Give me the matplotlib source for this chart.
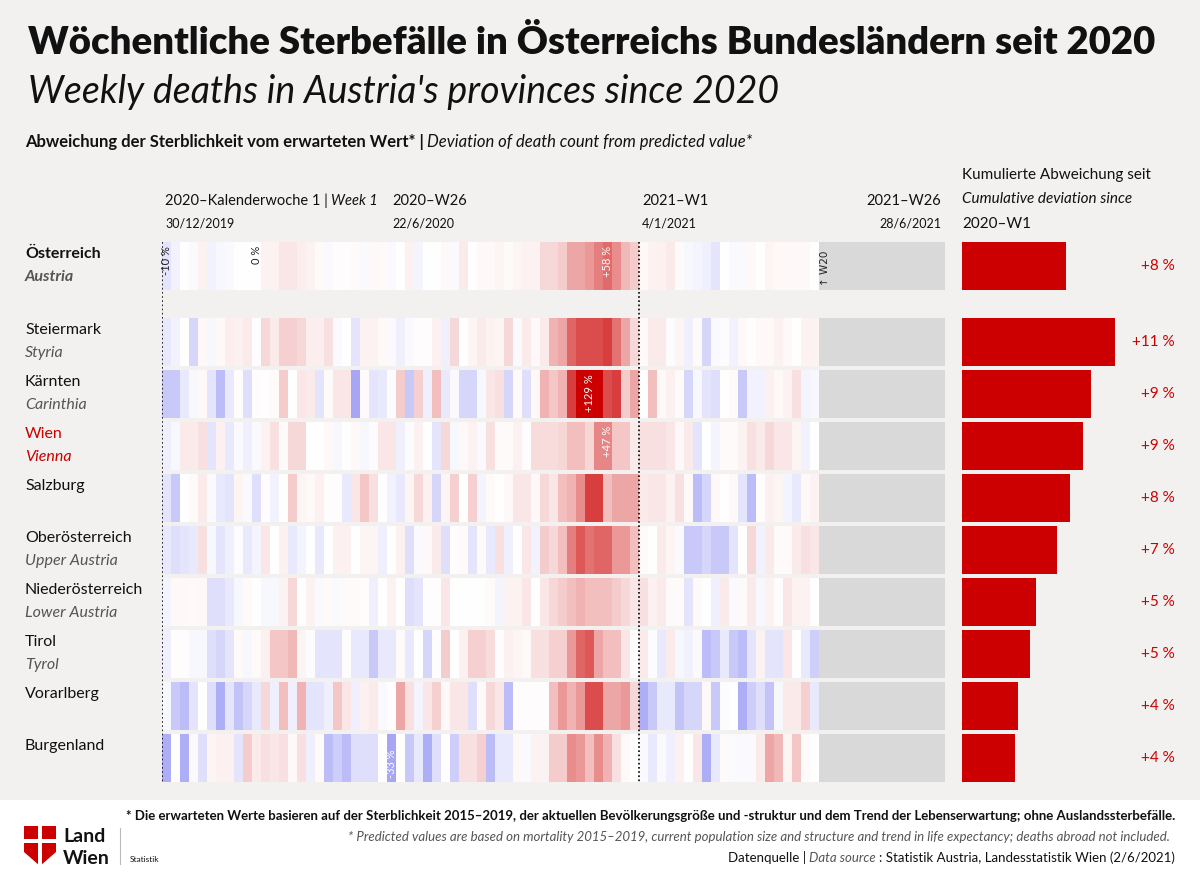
import numpy as np
import matplotlib
matplotlib.use("Agg")
import matplotlib.pyplot as plt
from matplotlib.colors import LinearSegmentedColormap, TwoSlopeNorm
from matplotlib.patches import Rectangle, Polygon

plt.rcParams['font.family'] = ['Lato', 'DejaVu Sans']

# ---------------- data ----------------
regions_de = ["Österreich", "Steiermark", "Kärnten", "Wien", "Salzburg", "Oberösterreich",
              "Niederösterreich", "Tirol", "Vorarlberg", "Burgenland"]
regions_en = ["Austria", "Styria", "Carinthia", "Vienna", "", "Upper Austria",
              "Lower Austria", "Tyrol", "", ""]
cumulative = [7.5, 11.0, 9.3, 8.7, 7.8, 6.8, 5.3, 4.9, 4.0, 3.8]
cumulative_labels = ["+8 %", "+11 %", "+9 %", "+9 %", "+8 %", "+7 %", "+5 %", "+5 %", "+4 %", "+4 %"]

# weekly deviation (%), 2020-W1 ... 2021-W20 (73 weeks)
austria = [-10,-5,0,-2,5,-5,-3,-2,0,0,0,5,5,10,10,7,5,2,-2,1,1,2,-2,3,2,-2,0,6,-4,0,0,3,-2,8,0,3,
           3,4,2,4,5,5,15,15,20,35,35,40,50,58,45,28,20,
           3,5,6,8,2,-3,-4,-6,-10,0,-2,-2,3,0,4,3,3,3,3,0]
styria = [-8,-5,0,-15,3,-3,3,7,6,8,1,15,8,18,18,15,7,7,12,-2,0,-10,5,5,3,-2,-6,-2,1,1,6,-6,15,0,4,8,
          5,4,15,-2,8,3,8,30,35,60,70,70,70,75,55,35,15,
          2,8,8,-1,4,-6,2,-15,-2,-1,-5,3,1,3,3,5,3,0,5,5]
carinthia = [-20,-20,-8,-3,3,-10,-25,-8,1,-12,1,0,2,20,0,10,8,-10,2,10,10,-33,2,-10,-8,-1,20,-20,18,-6,25,-8,-2,-15,-15,-3,
             10,12,-15,2,-12,3,30,22,30,75,129,129,120,70,75,20,35,
             0,25,3,6,2,-15,-3,-10,-12,0,2,-20,-5,-5,6,3,5,12,-4,-3]
vienna = [-6,-3,8,8,12,-10,6,-8,-2,-6,-2,5,12,2,15,15,0,0,3,-3,0,3,-3,-1,10,10,-6,-1,6,0,-10,15,-3,3,5,-2,
          12,2,2,6,1,14,14,14,16,25,25,16,47,47,22,22,8,
          12,12,12,10,3,8,-10,0,-4,2,2,5,12,8,15,10,10,4,-5,0]
salzburg = [-10,-20,0,2,8,-2,-8,-10,4,-2,-12,1,-5,0,20,4,3,6,1,1,-8,10,22,12,0,-5,-8,4,15,6,-15,4,18,0,18,-4,
            2,0,3,10,10,3,15,10,25,30,45,75,75,25,35,35,35,
            8,10,10,5,12,3,-25,-15,3,0,3,-10,-25,1,6,4,-4,-8,3,5]
upper_austria = [-8,-12,-10,-8,12,-3,-10,-6,-1,-8,-4,10,0,6,-8,-4,0,-8,0,6,6,0,4,4,-6,0,6,-12,-2,3,8,-12,1,2,-10,2,
                 -8,12,-6,0,10,-5,20,15,25,50,65,55,60,60,40,40,25,
                 2,0,8,4,-2,-20,-20,-15,-20,-20,-10,0,15,-5,8,2,2,8,12,10]
lower_austria = [-4,3,3,2,3,-12,-12,-8,-3,2,0,-3,-3,5,15,0,5,-2,2,-2,2,2,1,-6,0,5,0,-12,-10,1,1,10,0,0,0,0,
                 2,-4,5,5,10,0,10,15,20,25,30,25,25,25,20,15,10,
                 12,6,8,2,2,-10,2,0,-6,8,-2,2,8,-3,5,1,10,5,5,0]
tyrol = [-6,1,1,-3,-3,-12,-15,-10,2,-3,2,6,22,22,28,4,-1,-10,-10,-10,1,-8,-8,-20,-8,-8,2,-8,0,-15,1,20,0,6,18,18,
         14,1,6,4,3,12,12,18,18,40,60,65,35,25,25,10,1,
         8,-1,-8,8,-3,-5,-2,-25,-20,-8,-20,-25,-10,5,-10,-10,10,0,-8,-18]
vorarlberg = [-3,-20,-25,-10,0,-12,-30,-10,-22,-15,-8,15,-6,25,-6,30,-10,-10,-6,22,10,-6,6,8,-2,0,35,12,-4,10,18,3,10,10,-12,2,
              15,10,-25,1,1,1,1,25,40,30,40,70,70,35,35,40,15,
              -30,-20,-8,-8,-22,-15,-15,3,-20,-1,0,-30,-18,-12,-22,-3,8,8,18,-8]
burgenland = [-30,0,-30,-2,-12,4,6,6,-10,20,8,12,10,12,3,12,-6,2,-25,-18,-25,-12,-12,-12,0,-33,0,-20,-8,-30,-12,0,-18,12,12,18,
              -25,-8,-8,3,-2,5,5,20,20,45,40,25,45,30,12,3,0,
              -2,-8,-2,-6,6,0,10,-30,-8,2,-2,-2,-2,8,35,28,4,22,2,0]
series = [austria, styria, carinthia, vienna, salzburg, upper_austria, lower_austria, tyrol, vorarlberg, burgenland]

week_labels = ["2020–Kalenderwoche 1", "2020–W26", "2021–W1", "2021–W26"]
date_labels = ["30/12/2019", "22/6/2020", "4/1/2021", "28/6/2021"]

# ---------------- layout ----------------
W, H = 1200, 891
BG = "#f2f1ef"
RED = "#cc0000"
fig = plt.figure(figsize=(12, 8.91), dpi=100, facecolor=BG)
renderer = fig.canvas.get_renderer()

def fx(x): return x / W
def fy(y): return 1 - y / H
def T(x, y, s, **kw):
    return fig.text(fx(x), fy(y), s, **kw)

def chain(x, y, pieces, ha="left", gap=3, **common):
    objs = [T(0, y, s, va="center", **{**common, **kw}) for s, kw in pieces]
    widths = [o.get_window_extent(renderer).width for o in objs]
    total = sum(widths) + gap * (len(objs) - 1)
    cur = x if ha == "left" else x - total
    for o, w in zip(objs, widths):
        o.set_x(fx(cur))
        cur += w + gap

row_tops = [242, 318, 370, 422, 474, 526, 578, 630, 682, 734]
row_h = 48
Y0, Y1 = 236, 786

ax = fig.add_axes([fx(162), fy(Y1), (945 - 162) / W, (Y1 - Y0) / H])
xmax = (945 - 162) / 9
ax.set_xlim(0, xmax)
ax.set_ylim(Y1, Y0)
ax.axis("off")

cmap = LinearSegmentedColormap.from_list("dev", ["#7878f0", "#ffffff", RED])
norm = TwoSlopeNorm(vmin=-50, vcenter=0, vmax=100)
for vals, top in zip(series, row_tops):
    n = len(vals)
    X = np.arange(n + 1)
    Yb = np.array([top, top + row_h])
    ax.pcolormesh(X, Yb, np.array([vals], dtype=float), cmap=cmap, norm=norm, shading="flat")
    ax.add_patch(Rectangle((n, top), xmax - n, row_h, color="#d9d9d9", lw=0))

for xv in [0, 53]:
    ax.plot([xv, xv], [242, 782], color="black", lw=1.2, ls=(0, (1, 1.5)))

def cell_note(col, row, s, color="white"):
    ax.text(col + 0.5, row_tops[row] + 4, s, rotation=90, ha="center", va="top",
            fontsize=8, color=color)
cell_note(0, 0, "-10 %", "#222222")
cell_note(10, 0, "0 %", "#222222")
cell_note(49, 0, "+58 %")
ax.text(73.7, row_tops[0] + 44, "↑ W20", rotation=90, ha="center", va="bottom", fontsize=7.5,
        color="#222222", family=["DejaVu Sans"])
cell_note(47, 2, "+129 %")
cell_note(49, 3, "+47 %")
ax.text(25.5, row_tops[9] + 44, "-33 %", rotation=90, ha="center", va="bottom", fontsize=8, color="white")

bx = fig.add_axes([fx(962), fy(Y1), (1200 - 962) / W, (Y1 - Y0) / H])
bx.set_xlim(0, (1200 - 962) / 13.9)
bx.set_ylim(Y1, Y0)
bx.axis("off")
centers = [t + row_h / 2 for t in row_tops]
bx.barh(centers, cumulative, height=row_h, color=RED, left=0)
for c, lab in zip(centers, cumulative_labels):
    T(1175, c, lab, ha="right", va="center", fontsize=11, color=RED)

for i, (de, en, top) in enumerate(zip(regions_de, regions_en, row_tops)):
    col = RED if de == "Wien" else "#111111"
    ecol = RED if de == "Wien" else "#555555"
    bold = "bold" if i == 0 else "normal"
    T(25, top + 12, de, fontsize=11.5, color=col, va="center", fontweight=bold)
    if en:
        T(25, top + 35, en, fontsize=11.5, color=ecol, va="center", style="italic", fontweight=bold)

chain(165, 201, [("2020–Kalenderwoche 1 |", {}), ("Week 1", {"style": "italic"})],
      fontsize=10.5, color="#111111")
T(165, 223, date_labels[0], fontsize=9, va="center", color="#111111")
T(392, 201, week_labels[1], fontsize=10.5, va="center", color="#111111")
T(392, 223, date_labels[1], fontsize=9, va="center", color="#111111")
T(642, 201, week_labels[2], fontsize=10.5, va="center", color="#111111")
T(642, 223, date_labels[2], fontsize=9, va="center", color="#111111")
T(941, 201, week_labels[3], fontsize=10.5, va="center", ha="right", color="#111111")
T(941, 223, date_labels[3], fontsize=9, va="center", ha="right", color="#111111")

T(962, 175, "Kumulierte Abweichung seit", fontsize=11, va="center", color="#111111")
T(962, 199, "Cumulative deviation since", fontsize=11, va="center", style="italic", color="#111111")
T(962, 224, "2020–W1", fontsize=11, va="center", color="#111111")

T(28, 43, "Wöchentliche Sterbefälle in Österreichs Bundesländern seit 2020",
  fontsize=27.5, fontweight="heavy", va="center", color="#111111")
T(28, 92, "Weekly deaths in Austria's provinces since 2020",
  fontsize=27, style="italic", va="center", color="#111111")
chain(25, 142, [("Abweichung der Sterblichkeit vom erwarteten Wert* |", {"fontweight": "bold"}),
                ("Deviation of death count from predicted value*", {"style": "italic"})],
      fontsize=12, color="#111111")

fig.patches.append(Rectangle((0, 0), 1, fy(800), transform=fig.transFigure,
                             facecolor="white", edgecolor="none", zorder=0))
T(1175, 816, "* Die erwarteten Werte basieren auf der Sterblichkeit 2015–2019, der aktuellen "
  "Bevölkerungsgröße und -struktur und dem Trend der Lebenserwartung; ohne Auslandssterbefälle.",
  fontsize=9.5, fontweight="bold", ha="right", va="center", color="#111111")
T(1170, 837, "* Predicted values are based on mortality 2015–2019, current population size and "
  "structure and trend in life expectancy; deaths abroad not included.",
  fontsize=9.5, style="italic", ha="right", va="center", color="#555555")
chain(1175, 858, [("Datenquelle |", {}), ("Data source", {"style": "italic", "color": "#555555"}),
                  (": Statistik Austria, Landesstatistik Wien (2/6/2021)", {})],
      ha="right", fontsize=9.5, color="#111111")

logo = Polygon([[fx(24), fy(826)], [fx(56), fy(826)], [fx(56), fy(852)], [fx(40), fy(866)], [fx(24), fy(852)]],
               closed=True, transform=fig.transFigure, facecolor=RED, edgecolor="none")
fig.patches.append(logo)
fig.patches.append(Rectangle((fx(24), fy(843)), fx(32), 4 / H, transform=fig.transFigure,
                             facecolor="white", edgecolor="none"))
fig.patches.append(Rectangle((fx(38), fy(866)), fx(4), 40 / H, transform=fig.transFigure,
                             facecolor="white", edgecolor="none"))
T(63, 836, "Land", fontsize=14, fontweight="bold", va="center", color="#111111")
T(63, 858, "Wien", fontsize=14, fontweight="bold", va="center", color="#111111")
fig.lines.append(plt.Line2D([fx(120), fx(120)], [fy(828), fy(864)], transform=fig.transFigure,
                            color="#bbbbbb", lw=0.8))
T(130, 860, "Statistik", fontsize=6, va="center", color="#111111")

fig.savefig("out.png", dpi=100, facecolor=BG)
